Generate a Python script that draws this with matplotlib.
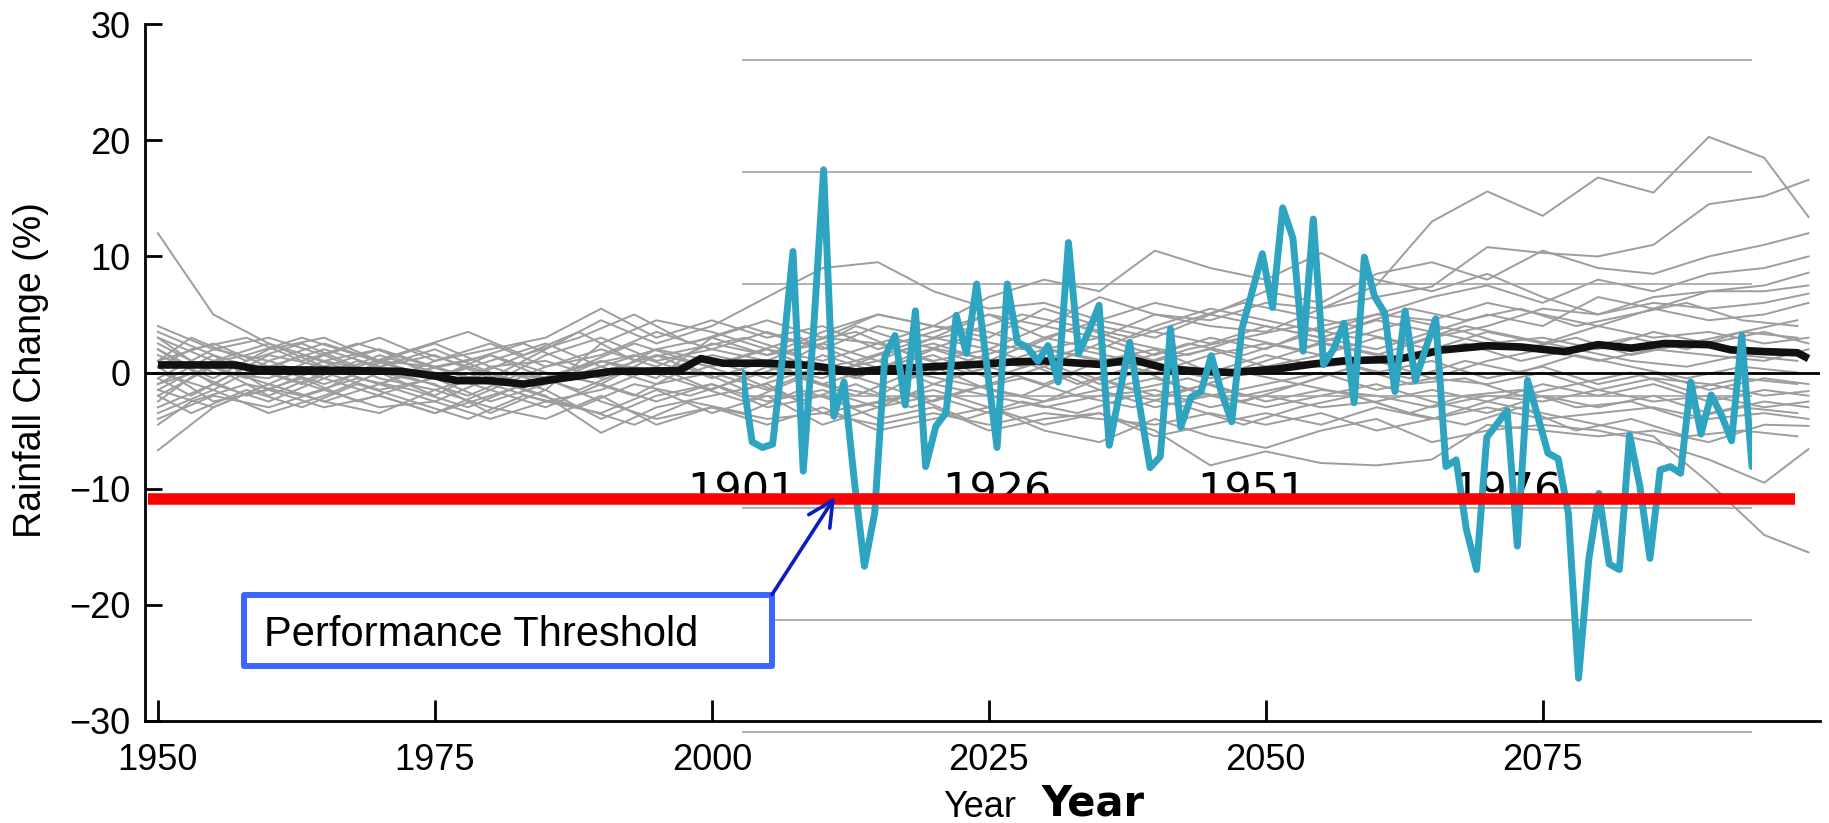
import matplotlib
matplotlib.use('Agg')
import matplotlib.pyplot as plt
from matplotlib.lines import Line2D
from matplotlib.patches import Rectangle, FancyArrowPatch

plt.rcParams['font.family'] = ['Liberation Sans', 'DejaVu Sans']

W, H = 1829, 823

# ---------------- data ----------------
run_years = [1950, 1955, 1960, 1965, 1970, 1975, 1980, 1985, 1990, 1995,
             2000, 2005, 2010, 2015, 2020, 2025, 2030, 2035, 2040, 2045,
             2050, 2055, 2060, 2065, 2070, 2075, 2080, 2085, 2090, 2095, 2099]

run01 = [2.0, -1.0, 1.5, 0.5, 2.0, -0.5, 1.0, 2.5, 0.5, 2.0, 3.0, 1.5, 2.5, 1.0, 3.0, 2.0,
         4.0, 3.0, 5.0, 4.0, 3.5, 5.5, 7.5, 13.0, 15.6, 13.5, 16.8, 15.5, 20.3, 18.5, 13.4]
run02 = [-1.0, 1.5, 0.0, -1.5, 1.0, 0.5, -1.0, 1.5, 3.0, 1.0, 2.0, 3.5, 2.0, 4.0, 3.0, 5.0,
         4.0, 6.5, 5.0, 4.5, 6.0, 5.5, 6.5, 7.4, 10.8, 10.3, 10.0, 11.0, 14.5, 15.2, 16.6]
run03 = [3.0, 1.0, 2.5, 0.5, -1.0, 1.0, 2.5, 0.5, 1.5, 3.5, 2.0, 1.0, 3.0, 5.0, 4.0, 3.0,
         5.5, 4.0, 3.0, 5.0, 7.0, 6.0, 8.5, 9.5, 8.0, 10.5, 9.0, 8.5, 10.0, 11.0, 12.0]
run04 = [-2.0, 0.5, -1.0, 1.0, 0.0, -2.0, 0.5, -1.0, 1.0, 0.0, 1.5, 0.5, -0.5, 1.5, 2.5, 1.0,
         3.0, 2.0, 4.0, 5.5, 4.5, 3.5, 5.0, 6.5, 7.5, 6.0, 8.0, 7.0, 8.5, 9.0, 10.0]
run05 = [1.0, 2.5, 0.5, 2.0, 0.5, 1.5, -0.5, 2.0, 4.5, 2.5, 4.0, 6.5, 9.0, 9.5, 7.0, 5.5,
         6.0, 4.5, 6.0, 5.0, 4.0, 3.0, 4.5, 3.5, 5.0, 4.0, 6.5, 5.5, 7.0, 7.5, 8.6]
run06 = [0.0, -1.5, 1.0, -0.5, 1.5, 0.0, -1.5, 0.5, 2.0, 0.5, 2.5, 1.5, 3.5, 5.0, 4.0, 6.5,
         8.0, 7.0, 10.5, 9.0, 8.0, 10.3, 8.0, 7.0, 8.5, 6.5, 5.0, 6.0, 5.5, 6.0, 6.8]
run07 = [-3.0, -1.0, -2.5, -0.5, -2.0, -3.5, -1.5, -3.0, -1.0, -2.5, -1.0, -3.0, -2.0, -4.0, -3.0, -5.0,
         -4.0, -3.5, -5.5, -4.5, -3.5, -4.5, -3.0, -4.0, -2.5, -3.5, -4.5, -5.5, -9.5, -14.0, -15.5]
run08 = [-6.7, -3.0, -1.0, -2.5, -1.0, -2.5, -0.5, -2.0, -5.2, -3.0, -2.0, -1.0, -3.5, -2.5, -1.5, -3.0,
         -5.0, -6.0, -4.0, -5.5, -6.5, -5.0, -4.0, -6.0, -5.0, -4.5, -5.0, -6.0, -7.5, -9.5, -6.6]
run09 = [-1.5, -3.0, -1.0, -2.5, -3.5, -1.5, -3.0, -4.0, -2.0, -4.5, -3.0, -4.5, -3.0, -5.0, -4.0, -3.0,
         -4.5, -3.5, -5.0, -8.0, -6.8, -7.8, -8.0, -7.5, -4.5, -5.0, -5.5, -5.0, -6.0, -4.5, -4.6]
run10 = [12.0, 5.0, 2.5, 1.0, 2.0, 0.5, 1.5, 0.0, -1.0, 1.5, 0.5, 2.0, 0.0, 1.0, -1.0, 0.5,
         2.0, 1.0, 0.0, 1.5, 2.5, 1.5, 3.0, 2.0, 3.5, 2.5, 4.0, 3.0, 3.5, 2.5, 3.0]
run11 = [4.0, 2.0, 3.0, 1.5, 3.0, 1.0, 2.0, 3.0, 5.5, 3.0, 4.5, 3.0, 4.0, 2.0, 3.5, 5.0,
         3.0, 4.5, 3.5, 2.5, 4.0, 3.0, 2.0, 3.5, 2.5, 3.0, 2.0, 3.5, 2.5, 3.5, 2.5]
run12 = [-4.0, -2.0, -3.0, -1.5, -3.0, -2.5, -4.0, -2.5, -3.5, -1.5, -3.5, -2.0, -4.5, -3.0, -2.0, -3.5,
         -2.5, -1.5, -3.0, -2.0, -3.0, -2.0, -1.0, -2.5, -3.5, -2.0, -3.0, -2.0, -3.5, -2.5, -3.0]
run13 = [1.5, -0.5, 2.0, 3.0, 1.0, 2.5, 0.5, 1.0, -0.5, 2.0, 1.0, -0.5, 1.5, 0.0, 2.0, 0.5,
         -1.0, 1.0, 2.0, 0.0, 1.5, 0.5, 1.0, -0.5, 1.0, 2.0, 1.0, 2.0, 1.5, 1.0, 2.0]
run14 = [-1.0, 0.5, -2.0, 0.0, -1.5, -0.5, -2.5, -1.0, 0.5, -1.0, 0.0, -1.5, 0.5, -1.0, -2.5, -1.0,
         0.5, -1.5, -0.5, -2.0, -1.0, 0.0, -1.5, -0.5, -1.0, 0.0, -1.5, -0.5, -1.0, -2.0, -1.6]
run15 = [2.5, 0.0, -0.5, 1.5, -0.5, -1.5, 0.0, -0.5, 1.0, -0.5, 3.0, 4.5, 3.0, 2.5, 4.0, 3.5,
         2.0, 3.0, 1.5, 3.0, 2.0, 4.0, 5.0, 4.5, 6.0, 5.0, 4.0, 5.5, 4.5, 5.0, 6.0]
run16 = [0.5, -2.5, -1.5, -3.0, -2.0, -3.5, -2.0, -0.5, -2.5, -4.0, -3.0, -4.0, -3.5, -4.5, -3.5, -4.5,
         -3.5, -4.0, -4.5, -3.5, -4.5, -3.5, -5.0, -4.0, -3.0, -4.0, -3.5, -3.0, -4.0, -3.5, -4.0]
run17 = [-2.5, 1.0, 0.5, -1.0, 0.5, 2.0, 0.0, -1.5, 2.5, 4.5, 3.5, 2.0, 1.0, 2.5, 1.0, 2.0,
         0.5, 2.5, 1.0, 2.0, 0.5, 1.5, 0.0, 1.0, -0.5, 0.5, -1.0, 0.0, -1.5, -0.5, -1.0]
run18 = [3.5, 1.5, -1.5, 0.5, -1.0, 0.5, -1.0, -2.5, -1.5, 0.5, -1.5, 0.5, -1.0, -2.0, 0.5, -1.5,
         -2.5, -0.5, -2.0, -1.0, -2.5, -1.5, -2.0, -3.0, -2.0, -2.5, -1.5, -2.5, -2.0, -3.0, -2.5]
run19 = [-0.5, 2.0, 1.0, 2.5, 1.0, -0.5, 1.5, -0.5, 0.0, 1.5, -0.5, 1.0, -1.0, 0.5, 1.5, -0.5,
         1.0, -1.0, 0.5, -0.5, 1.0, 2.5, 1.5, 3.0, 4.0, 5.5, 5.0, 6.5, 7.0, 7.0, 7.5]
run20 = [-3.5, -1.5, -3.5, -2.0, 0.0, -1.0, -3.5, -1.5, -4.0, -2.0, -1.0, -2.5, -1.5, -3.0, -1.0, -2.0,
         -3.0, -2.0, -1.5, -3.0, -2.0, -3.0, -2.5, -1.5, -2.5, -1.0, -2.0, -1.0, -2.5, -1.5, -2.0]

# second group of runs, sampled on offset years
run_years_b = [1950, 1953, 1958, 1963, 1968, 1973, 1978, 1983, 1988, 1993,
               1998, 2003, 2008, 2013, 2018, 2023, 2028, 2033, 2038, 2043,
               2048, 2053, 2058, 2063, 2068, 2073, 2078, 2083, 2088, 2093, 2098]

run21 = [1.0, 3.0, 1.0, 2.5, 0.5, 2.0, 3.5, 1.5, 3.0, 5.0, 2.5, 4.0, 2.5, 3.5, 1.5, 3.0,
         2.0, 4.0, 2.5, 1.5, 3.0, 2.0, 3.5, 2.5, 4.0, 3.0, 2.0, 3.0, 2.0, 3.5, 3.0]
run22 = [-2.0, -3.5, -1.5, -3.0, -1.0, -2.5, -4.0, -2.0, -3.0, -4.5, -2.5, -3.5, -1.5, -3.0, -2.0, -4.0,
         -2.5, -3.5, -2.0, -3.0, -4.5, -3.0, -2.0, -3.5, -2.0, -1.5, -3.0, -2.5, -4.0, -3.0, -3.5]
run23 = [0.5, 2.0, 3.0, 1.0, 2.5, 1.0, -0.5, 1.5, 3.5, 1.0, 2.0, 3.0, 1.5, 4.0, 2.5, 3.5,
         5.0, 4.0, 3.0, 4.5, 6.0, 5.0, 4.0, 5.5, 4.5, 5.5, 4.0, 5.0, 6.0, 4.5, 4.0]
run24 = [-1.5, 0.0, -2.0, -0.5, -2.5, -1.0, 0.5, -1.5, -3.0, -1.0, -2.0, -0.5, -2.5, -1.0, -3.0, -1.5,
         -0.5, -2.0, -3.0, -1.5, -2.5, -1.0, -2.0, -3.5, -4.5, -3.0, -5.0, -4.0, -5.5, -5.0, -5.5]
run25 = [2.0, 0.5, 1.5, 3.0, 1.5, 0.0, 1.0, 2.5, 0.5, 1.5, 0.0, 1.5, 3.0, 1.0, 2.5, 1.5,
         0.5, 2.0, 1.0, 2.5, 1.5, 3.0, 2.0, 1.0, 2.5, 1.0, 2.0, 1.0, 0.5, 1.5, 1.0]
run26 = [-0.5, -2.0, 0.5, -1.0, 1.0, -0.5, -2.0, 0.0, -1.5, 0.5, -1.0, -2.5, -0.5, -2.0, 0.0, -1.0,
         -2.0, 0.0, -1.5, -0.5, -2.0, -1.0, 0.5, -1.0, -0.5, -2.0, -1.0, 0.0, -1.5, -0.5, -1.0]
run27 = [3.0, 1.0, -0.5, 1.5, 0.0, 2.0, 0.5, -1.0, 0.5, 2.5, 1.0, -0.5, 1.0, -0.5, 1.5, 0.0,
         1.0, -1.0, 0.5, -1.5, 0.0, -1.0, 0.5, -0.5, 1.0, 0.0, 1.5, 0.5, -0.5, 0.5, 0.0]
run28 = [-4.5, -2.5, -1.0, -2.0, -0.5, -1.5, -3.0, -1.0, -0.5, -2.0, 0.5, -1.5, 0.0, 1.0, -0.5, 1.0,
         2.5, 1.5, 0.5, 2.0, 3.0, 4.0, 3.0, 4.5, 3.5, 2.0, 3.0, 1.5, 2.5, 3.5, 4.5]

runs_a = [run01, run02, run03, run04, run05, run06, run07, run08, run09, run10,
          run11, run12, run13, run14, run15, run16, run17, run18, run19, run20]
runs_b = [run21, run22, run23, run24, run25, run26, run27, run28]

mean_years = [1950, 1957, 1959, 1965, 1972, 1975, 1977, 1980, 1983, 1985, 1988, 1991, 1997,
              1999, 2001, 2005, 2009, 2013, 2016, 2020, 2024, 2027, 2030, 2035, 2038, 2041,
              2044, 2047, 2051, 2054, 2057, 2062, 2066, 2070, 2073, 2077, 2080, 2083, 2086,
              2090, 2092, 2095, 2098, 2099]
mean_vals = [0.65, 0.65, 0.25, 0.2, 0.1, -0.3, -0.7, -0.7, -1.0, -0.7, -0.3, 0.1, 0.15,
             1.2, 0.8, 0.8, 0.6, 0.05, 0.3, 0.5, 0.7, 0.9, 1.0, 0.7, 1.1, 0.35,
             0.1, 0.0, 0.3, 0.7, 1.0, 1.15, 1.95, 2.3, 2.2, 1.8, 2.4, 2.1, 2.5,
             2.4, 1.95, 1.8, 1.7, 1.2]

obs_years = list(range(1901, 2001))
obs_vals = [2.1, -4.1, -4.6, -4.3, 3.7, 12.9, -6.7, 5.7, 20.2, -1.8,
            1.25, -7.5, -15.2, -10.5, 3.5, 5.4, -0.8, 7.6, -6.3, -2.7,
            -1.5, 7.2, 3.8, 10.0, 2.7, -4.6, 10.0, 4.8, 4.3, 3.1,
            4.5, 1.25, 13.7, 3.8, 5.8, 8.1, -4.4, 0.2, 4.8, -1.0,
            -6.4, -5.4, 6.0, -2.8, -0.1, 0.4, 3.6, 0.3, -2.3, 6.0,
            9.3, 12.7, 7.9, 16.8, 14.1, 4.0, 15.8, 2.8, 4.2, 6.5,
            -0.6, 12.4, 8.9, 7.4, 0.4, 7.6, 1.4, 4.2, 6.9, -6.3,
            -5.7, -11.9, -15.5, -3.7, -2.5, -1.3, -13.4, 1.4, -1.8, -5.1,
            -5.6, -10.5, -25.2, -14.6, -8.7, -15.0, -15.5, -3.5, -8.0, -14.5,
            -6.6, -6.3, -6.9, 1.25, -3.4, 0.1, -1.7, -4.0, 5.4, -6.3]

main_xticks = [1950, 1975, 2000, 2025, 2050, 2075]
main_yticks = [-30, -20, -10, 0, 10, 20, 30]
obs_xticks = [1901, 1926, 1951, 1976]
obs_grid = [-30, -20, -10, 0, 10, 20, 30]
threshold = -10.9
threshold_span = [1949.1, 2097.8]


def fx(x):
    return x / W


def fy(y):
    return 1 - y / H


fig = plt.figure(figsize=(W / 100, H / 100), dpi=100)

# ---------------- background projection chart ----------------
ax1 = fig.add_axes([fx(144.5), fy(720.7), (1819.6 - 144.5) / W, (720.7 - 24.3) / H])
ax1.set_xlim(1948.79, 2100)
ax1.set_ylim(-30, 30)
for r in runs_a:
    ax1.plot(run_years, r, color='#9d9d9d', lw=1.4, zorder=2)
for r in runs_b:
    ax1.plot(run_years_b, r, color='#9d9d9d', lw=1.4, zorder=2)
ax1.axhline(0, color='black', lw=2, zorder=3)
ax1.plot(mean_years, mean_vals, color='#111111', lw=5.5, zorder=4,
         solid_capstyle='butt', solid_joinstyle='round')
for s in ['top', 'right']:
    ax1.spines[s].set_visible(False)
for s in ['left', 'bottom']:
    ax1.spines[s].set_linewidth(2)
ax1.set_xticks(main_xticks)
ax1.set_yticks(main_yticks)
ax1.tick_params(axis='both', direction='in', width=2, labelsize=26, colors='black')
ax1.tick_params(axis='x', length=15, pad=16)
ax1.tick_params(axis='y', length=12, pad=10)

# ---------------- overlaid observed-series chart ----------------
ax2 = fig.add_axes([fx(742), fy(732), 1010 / W, 672 / H])
ax2.patch.set_visible(False)
ax2.set_xlim(1901, 2000)
ax2.set_ylim(-30, 30)
for s in ax2.spines.values():
    s.set_visible(False)
ax2.hlines(obs_grid, 1901, 2000, color='#a3a3a3', lw=1.2, clip_on=False, zorder=1)
ax2.plot(obs_years, obs_vals, color='#2ea4c1', lw=5, zorder=3,
         solid_joinstyle='round', solid_capstyle='round')
ax2.set_yticks([])
ax2.set_xticks(obs_xticks)
ax2.set_xticklabels([str(t) for t in obs_xticks], fontsize=31, family='DejaVu Sans')
ax2.tick_params(axis='x', length=0, pad=-188.6)

# ---------------- threshold, annotation ----------------
fig.add_artist(Line2D(threshold_span, [threshold, threshold], transform=ax1.transData,
                      color='#ff0000', lw=8.3, solid_capstyle='butt', zorder=10))

box = Rectangle((fx(244), fy(666)), (772 - 244) / W, (666 - 595) / H,
                transform=fig.transFigure, facecolor='white', edgecolor='#3b66ff',
                lw=4.3, joinstyle='round', zorder=11)
fig.add_artist(box)
fig.text(fx(264), fy(646), 'Performance Threshold', fontsize=30, ha='left',
         va='baseline', zorder=12)

arrow = FancyArrowPatch((fx(772), fy(594.6)), (fx(835), fy(497)), transform=fig.transFigure,
                        arrowstyle='->,head_length=0.9,head_width=0.45', mutation_scale=20,
                        color='#0a1ebe', lw=2.6, shrinkA=0, shrinkB=0, zorder=12)
fig.add_artist(arrow)

# ---------------- labels ----------------
fig.text(fx(31.5), fy(370), 'Rainfall Change (%)', rotation=90, ha='center', va='center',
         fontsize=27)
fig.text(fx(980), fy(816.7), 'Year', ha='center', va='baseline', fontsize=26)
fig.text(fx(1093), fy(815), 'Year', ha='center', va='baseline', fontsize=30,
         fontweight='bold', family='DejaVu Sans')

fig.savefig('out.png', dpi=100)
